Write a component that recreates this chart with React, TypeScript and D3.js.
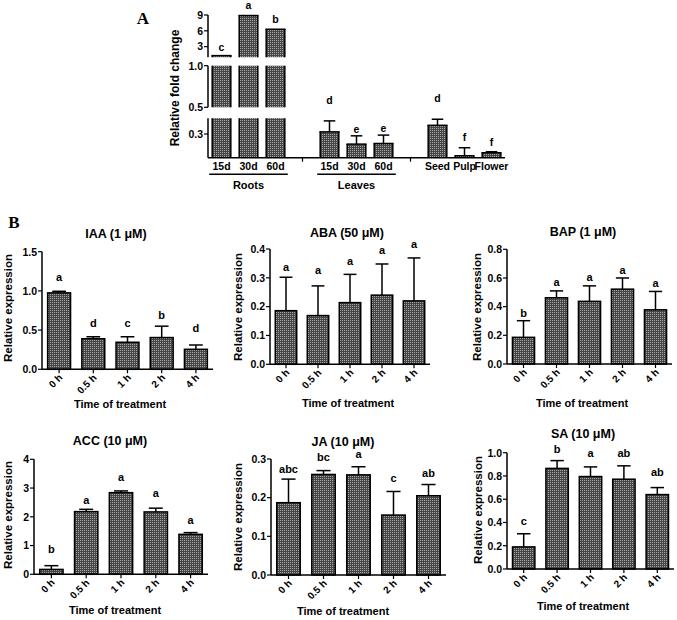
import React from "react";
import * as d3 from "d3";

// ---------------- Panel A data ----------------
const tissueLabels = ["15d", "30d", "60d", "", "15d", "30d", "60d", "", "Seed", "Pulp", "Flower"];
const tissueMean: (number | null)[] = [1.3, 8.9, 6.3, null, 0.327, 0.172, 0.18, null, 0.41, 0.025, 0.063];
const tissueSd: (number | null)[] = [0, 0, 0, null, 0.139, 0.105, 0.106, null, 0.077, 0.101, 0.012];
const tissueLetters = ["c", "a", "b", "", "d", "e", "e", "", "d", "f", "f"];
const tissueLetterY: (number | null)[] = [3.0, 10.9, 8.3, null, 0.59, 0.363, 0.376, null, 0.616, 0.262, 0.203];
const tissueGroups = ["Roots", "Leaves"];
const tissueGroupIdx = [[0, 2], [4, 6]];
const segDomains = [[0, 0.5], [0.5, 1.0], [1, 9]];
const segTicks = [[0.3], [0.5, 1.0], [3, 6, 9]];
const segFormats = [".1f", ".1f", "d"];

// ---------------- Panel B data ----------------
const times = ["0 h", "0.5 h", "1 h", "2 h", "4 h"];

const iaaMean = [0.975, 0.39, 0.345, 0.405, 0.255];
const iaaSd = [0.02, 0.025, 0.07, 0.145, 0.055];
const iaaLetters = ["a", "d", "c", "b", "d"];
const iaaLetterY = [1.18, 0.59, 0.59, 0.69, 0.525];

const abaMean = [0.186, 0.169, 0.214, 0.24, 0.22];
const abaSd = [0.116, 0.103, 0.098, 0.108, 0.149];
const abaLetters = ["a", "a", "a", "a", "a"];
const abaLetterY = [0.339, 0.327, 0.36, 0.395, 0.418];

const bapMean = [0.186, 0.462, 0.437, 0.522, 0.378];
const bapSd = [0.116, 0.048, 0.108, 0.078, 0.128];
const bapLetters = ["b", "a", "a", "a", "a"];
const bapLetterY = [0.353, 0.57, 0.608, 0.655, 0.562];

const accMean = [0.17, 2.18, 2.84, 2.17, 1.39];
const accSd = [0.13, 0.08, 0.06, 0.13, 0.06];
const accLetters = ["b", "a", "a", "a", "a"];
const accLetterY = [0.87, 2.58, 3.37, 2.82, 1.89];

const jaMean = [0.187, 0.26, 0.259, 0.155, 0.205];
const jaSd = [0.061, 0.01, 0.021, 0.061, 0.029];
const jaLetters = ["abc", "bc", "a", "c", "ab"];
const jaLetterY = [0.274, 0.305, 0.312, 0.25, 0.265];

const saMean = [0.19, 0.865, 0.795, 0.772, 0.64];
const saSd = [0.113, 0.067, 0.083, 0.115, 0.06];
const saLetters = ["c", "b", "a", "ab", "ab"];
const saLetterY = [0.41, 1.03, 1.0, 1.0, 0.83];

const FONT = "'Liberation Sans', Arial, sans-serif";
const SERIF = "'Liberation Serif', 'Times New Roman', serif";

type PanelCfg = {
  title: string; mean: number[]; sd: number[]; letters: string[]; letterY: number[];
  domain: [number, number]; step: number; fmt: string;
  x0: number; x1: number; y0: number; yTop: number;
  titleX: number; titleY: number; ylabX: number; ylabY: number; xlabX: number; xlabY: number;
};

const panels: PanelCfg[] = [
  { title: "IAA (1 \u03bcM)", mean: iaaMean, sd: iaaSd, letters: iaaLetters, letterY: iaaLetterY, domain: [0, 1.5], step: 0.5, fmt: ".1f",
    x0: 42, x1: 213, y0: 369.3, yTop: 251.7, titleX: 116, titleY: 233, ylabX: 8, ylabY: 308, xlabX: 120, xlabY: 404 },
  { title: "ABA (50 \u03bcM)", mean: abaMean, sd: abaSd, letters: abaLetters, letterY: abaLetterY, domain: [0, 0.4], step: 0.1, fmt: ".1f",
    x0: 270, x1: 430, y0: 364.3, yTop: 249, titleX: 347, titleY: 232, ylabX: 238, ylabY: 307, xlabX: 348, xlabY: 403 },
  { title: "BAP (1 \u03bcM)", mean: bapMean, sd: bapSd, letters: bapLetters, letterY: bapLetterY, domain: [0, 0.8], step: 0.2, fmt: ".1f",
    x0: 507, x1: 672, y0: 364, yTop: 249.3, titleX: 583, titleY: 231, ylabX: 477, ylabY: 307, xlabX: 582, xlabY: 403 },
  { title: "ACC (10 \u03bcM)", mean: accMean, sd: accSd, letters: accLetters, letterY: accLetterY, domain: [0, 4], step: 1, fmt: "d",
    x0: 34, x1: 208, y0: 574.3, yTop: 459.3, titleX: 110, titleY: 440, ylabX: 8, ylabY: 515, xlabX: 115, xlabY: 610 },
  { title: "JA (10 \u03bcM)", mean: jaMean, sd: jaSd, letters: jaLetters, letterY: jaLetterY, domain: [0, 0.3], step: 0.1, fmt: ".1f",
    x0: 271, x1: 446, y0: 575, yTop: 459, titleX: 343, titleY: 441, ylabX: 238, ylabY: 517, xlabX: 343, xlabY: 611 },
  { title: "SA (10 \u03bcM)", mean: saMean, sd: saSd, letters: saLetters, letterY: saLetterY, domain: [0, 1], step: 0.2, fmt: ".1f",
    x0: 507, x1: 674, y0: 569, yTop: 452.7, titleX: 583, titleY: 433, ylabX: 478, ylabY: 510, xlabX: 583, xlabY: 606 },
];

function PanelB({ p }: { p: PanelCfg }) {
  const x = d3.scaleBand<string>().domain(times).range([p.x0, p.x1]).paddingInner(0.33).paddingOuter(0.165);
  const y = d3.scaleLinear().domain(p.domain).range([p.y0, p.yTop]);
  const ticks = d3.range(p.domain[0], p.domain[1] + p.step / 2, p.step);
  const f = d3.format(p.fmt);
  const bw = x.bandwidth();
  const capW = bw * 0.6;
  return (
    <g>
      {p.mean.map((m, i) => {
        const bx = x(times[i])!;
        const cx = bx + bw / 2;
        const top = y(m);
        const errTop = y(m + p.sd[i]);
        return (
          <g key={i}>
            <line x1={cx} x2={cx} y1={top} y2={errTop} stroke="#000" strokeWidth={1.5} />
            <line x1={cx - capW / 2} x2={cx + capW / 2} y1={errTop} y2={errTop} stroke="#000" strokeWidth={1.5} />
            <rect x={bx} y={top} width={bw} height={p.y0 - top} fill="url(#chk)" stroke="#000" strokeWidth={1.5} />
            <text x={cx} y={y(p.letterY[i]) + 4} textAnchor="middle" fontSize={11} fontWeight="bold" fontFamily={FONT}>{p.letters[i]}</text>
            <line x1={cx} x2={cx} y1={p.y0} y2={p.y0 + 4} stroke="#000" strokeWidth={1.2} />
            <text transform={`translate(${cx + 4},${p.y0 + 9}) rotate(-45)`} textAnchor="end" fontSize={10} fontWeight="bold" fontFamily={FONT}>{times[i]}</text>
          </g>
        );
      })}
      <line x1={p.x0} x2={p.x0} y1={p.y0} y2={p.yTop} stroke="#000" strokeWidth={1.5} />
      <line x1={p.x0} x2={p.x1} y1={p.y0} y2={p.y0} stroke="#000" strokeWidth={1.5} />
      {ticks.map((t, i) => (
        <g key={i}>
          <line x1={p.x0 - 4} x2={p.x0} y1={y(t)} y2={y(t)} stroke="#000" strokeWidth={1.2} />
          <text x={p.x0 - 5} y={y(t) + 3.8} textAnchor="end" fontSize={10.5} fontWeight="bold" fontFamily={FONT}>{f(t)}</text>
        </g>
      ))}
      <text x={p.titleX} y={p.titleY + 4.5} textAnchor="middle" fontSize={12.5} fontWeight="bold" fontFamily={FONT}>{p.title}</text>
      <text transform={`translate(${p.ylabX},${p.ylabY}) rotate(-90)`} dy="0.35em" textAnchor="middle" fontSize={11.5} fontWeight="bold" fontFamily={FONT}>Relative expression</text>
      <text x={p.xlabX} y={p.xlabY + 4} textAnchor="middle" fontSize={11} fontWeight="bold" fontFamily={FONT}>Time of treatment</text>
    </g>
  );
}

function PanelA() {
  const ax0 = 208, ax1 = 505, base = 157.7;
  const segRanges = [[157.7, 118.2], [107.3, 65.7], [57.2, 15]];
  const x = d3.scaleBand<string>().domain(tissueLabels.map((_, i) => String(i))).range([ax0, ax1]).paddingInner(0.31).paddingOuter(0.155);
  const scales = segDomains.map((d, k) => d3.scaleLinear().domain(d).range(segRanges[k]));
  const segOf = (v: number) => {
    for (let k = 0; k < segDomains.length; k++) if (v <= segDomains[k][1]) return k;
    return segDomains.length - 1;
  };
  const bw = x.bandwidth();
  const capW = bw * 0.62;
  return (
    <g>
      {tissueMean.map((v, i) => {
        if (v == null) return null;
        const bx = x(String(i))!;
        const cx = bx + bw / 2;
        const pieces: React.ReactNode[] = [];
        segDomains.forEach((d, k) => {
          if (v <= d[0] && k > 0) return;
          const sc = scales[k];
          const yb = sc(d[0]);
          const yt = sc(Math.min(v, d[1]));
          pieces.push(<rect key={`f${k}`} x={bx} y={yt} width={bw} height={yb - yt} fill="url(#chk)" />);
          pieces.push(<line key={`l${k}`} x1={bx} x2={bx} y1={yt} y2={yb} stroke="#000" strokeWidth={1.5} />);
          pieces.push(<line key={`r${k}`} x1={bx + bw} x2={bx + bw} y1={yt} y2={yb} stroke="#000" strokeWidth={1.5} />);
          if (v <= d[1]) pieces.push(<line key={`t${k}`} x1={bx - 0.75} x2={bx + bw + 0.75} y1={yt} y2={yt} stroke="#000" strokeWidth={1.5} />);
        });
        const sd = tissueSd[i] || 0;
        const k = segOf(v);
        const ly = tissueLetterY[i]!;
        const lk = segOf(Math.min(ly, segDomains[2][1]));
        const lScale = scales[Math.max(k, lk)];
        return (
          <g key={i}>
            {sd > 0 && (
              <g>
                <line x1={cx} x2={cx} y1={scales[k](v)} y2={scales[k](v + sd)} stroke="#000" strokeWidth={1.5} />
                <line x1={cx - capW / 2} x2={cx + capW / 2} y1={scales[k](v + sd)} y2={scales[k](v + sd)} stroke="#000" strokeWidth={1.5} />
              </g>
            )}
            {pieces}
            <text x={cx} y={lScale(ly) + 4} textAnchor="middle" fontSize={10.5} fontWeight="bold" fontFamily={FONT}>{tissueLetters[i]}</text>
          </g>
        );
      })}
      {tissueLabels.map((l, i) => {
        const cx = x(String(i))! + bw / 2;
        if (l === "") return <line key={i} x1={cx} x2={cx} y1={base} y2={base + 4} stroke="#000" strokeWidth={1.2} />;
        return <text key={i} x={cx} y={base + 12} textAnchor="middle" fontSize={10.5} fontWeight="bold" fontFamily={FONT}>{l}</text>;
      })}
      {segDomains.map((d, k) => (
        <g key={k}>
          <line x1={ax0} x2={ax0} y1={segRanges[k][0]} y2={segRanges[k][1]} stroke="#000" strokeWidth={1.5} />
          {segTicks[k].map((t, j) => (
            <g key={j}>
              <line x1={ax0 - 4} x2={ax0} y1={scales[k](t)} y2={scales[k](t)} stroke="#000" strokeWidth={1.2} />
              <text x={ax0 - 5} y={scales[k](t) + 3.8} textAnchor="end" fontSize={10.5} fontWeight="bold" fontFamily={FONT}>{d3.format(segFormats[k])(t)}</text>
            </g>
          ))}
        </g>
      ))}
      <line x1={ax0} x2={ax1} y1={base} y2={base} stroke="#000" strokeWidth={1.5} />
      {tissueGroups.map((g, j) => {
        const [a, b] = tissueGroupIdx[j];
        const xa = x(String(a))! - 3;
        const xb = x(String(b))! + bw + 3;
        return (
          <g key={g}>
            <line x1={xa} x2={xb} y1={174.3} y2={174.3} stroke="#000" strokeWidth={1.5} />
            <text x={(xa + xb) / 2} y={189} textAnchor="middle" fontSize={11} fontWeight="bold" fontFamily={FONT}>{g}</text>
          </g>
        );
      })}
      <text transform="translate(175,88) rotate(-90)" dy="0.35em" textAnchor="middle" fontSize={12} fontWeight="bold" fontFamily={FONT}>Relative fold change</text>
    </g>
  );
}

export default function App() {
  return (
    <svg width={677} height={620} style={{ position: "absolute", left: 0, top: 0, background: "#fff" }}>
      <defs>
        <pattern id="chk" width={2} height={2} patternUnits="userSpaceOnUse">
          <rect width={2} height={2} fill="#454545" />
          <rect width={1} height={1} fill="#a8a8a8" />
        </pattern>
      </defs>
      <rect width={677} height={620} fill="#fff" />
      <text x={143} y={24} textAnchor="middle" fontSize={17} fontWeight="bold" fontFamily={SERIF}>A</text>
      <text x={14} y={228} textAnchor="middle" fontSize={17} fontWeight="bold" fontFamily={SERIF}>B</text>
      <PanelA />
      {panels.map((p, i) => <PanelB key={i} p={p} />)}
    </svg>
  );
}
